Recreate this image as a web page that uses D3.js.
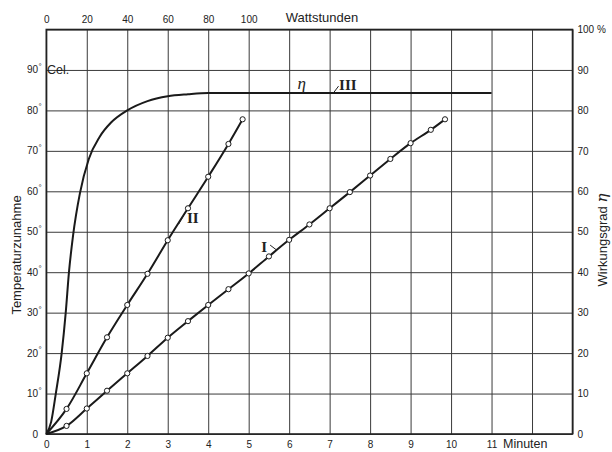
<!DOCTYPE html>
<html><head><meta charset="utf-8">
<script src="https://cdn.jsdelivr.net/npm/d3@7/dist/d3.min.js"></script>
<style>
html,body{margin:0;padding:0;background:#fff;}
svg{display:block;}
text{font-family:"Liberation Sans","Noto Sans",sans-serif;fill:#222;}
</style></head>
<body>
<svg id="chart" width="612" height="452"></svg>
<script>
// ---------- data ----------
const minuteTicks = [0,1,2,3,4,5,6,7,8,9,10,11];
const wattTicks = [0,20,40,60,80,100];
const tempTicks = [0,10,20,30,40,50,60,70,80,90];
const pctTicks = [0,10,20,30,40,50,60,70,80,90,100];

// Curve I  (temperature rise, °C vs minutes)
const curveI_t = [0,0.5,1,1.5,2,2.5,3,3.5,4,4.5,5,5.5,6,6.5,7,7.5,8,8.5,9,9.5,9.85];
const curveI_T = [0,2,6.3,10.7,15,19.3,23.8,27.9,31.9,35.8,39.7,43.9,48,51.8,55.8,59.8,63.9,68,71.9,75.2,77.8];
// Curve II
const curveII_t = [0,0.5,1,1.5,2,2.5,3,3.5,4,4.5,4.85];
const curveII_T = [0,6.2,15,23.9,31.9,39.6,47.9,55.8,63.6,71.7,77.8];
// Curve III  (efficiency eta, %)
const curveIII_t = [0,0.12,0.235,0.38,0.48,0.56,0.66,0.83,1.05,1.32,1.6,2.0,2.5,3.0,3.5,4.0,11.0];
const curveIII_E = [0,3,10,20,30,40,49,59.5,68,73.5,77,80,82.3,83.5,84,84.3,84.3];

// ---------- layout ----------
const svg = d3.select("#chart");
const x = d3.scaleLinear().domain([0,13]).range([46.3,572.5]);
const y = d3.scaleLinear().domain([0,100]).range([434,29.5]);
const xW = d3.scaleLinear().domain([0,260]).range([46.3,572.5]);

const gridColor = "#3a3a3a";
// vertical grid
svg.append("g").attr("transform","translate(0,434)")
  .call(d3.axisBottom(x).tickValues(d3.range(0,14)).tickSize(-404.5).tickFormat(""))
  .call(g=>{g.select(".domain").remove();
    g.selectAll("line").attr("stroke",gridColor).attr("stroke-width",1);});
// horizontal grid
svg.append("g").attr("transform","translate(46.3,0)")
  .call(d3.axisLeft(y).tickValues(pctTicks).tickSize(-526.2).tickFormat(""))
  .call(g=>{g.select(".domain").remove();
    g.selectAll("line").attr("stroke",gridColor).attr("stroke-width",1);});
// frame
svg.append("rect").attr("x",x(0)).attr("y",y(100)).attr("width",x(13)-x(0)).attr("height",y(0)-y(100))
  .attr("fill","none").attr("stroke","#222").attr("stroke-width",1.6);

// bottom axis labels
svg.append("g").attr("transform","translate(0,434)")
  .call(d3.axisBottom(x).tickValues(minuteTicks).tickSize(0).tickPadding(7).tickFormat(d3.format("d")))
  .call(g=>{g.select(".domain").remove();
    g.selectAll("text").attr("font-size",10).style("font-family","Liberation Sans");});
svg.append("text").attr("x",503).attr("y",448).attr("font-size",12.5).text("Minuten");

// top axis labels
svg.append("g").attr("transform","translate(0,29.5)")
  .call(d3.axisTop(xW).tickValues(wattTicks).tickSize(0).tickPadding(7).tickFormat(d3.format("d")))
  .call(g=>{g.select(".domain").remove();
    g.selectAll("text").attr("font-size",10).style("font-family","Liberation Sans");});
svg.append("text").attr("x",322).attr("y",22).attr("text-anchor","middle").attr("font-size",13).text("Wattstunden");

// right axis labels
svg.append("g").attr("transform","translate(572.5,0)")
  .call(d3.axisRight(y).tickValues(pctTicks).tickSize(0).tickPadding(5)
    .tickFormat(d=> d===100 ? "100 %" : d))
  .call(g=>{g.select(".domain").remove();
    g.selectAll("text").attr("font-size",10).style("font-family","Liberation Sans");});

// left axis labels
const left = svg.append("g");
left.selectAll("text.tl").data(tempTicks).join("text")
  .attr("class","tl")
  .attr("x",38).attr("y",d=>y(d)+3.5).attr("text-anchor","end").attr("font-size",10)
  .text(d=>d);
left.selectAll("text.deg").data(tempTicks.filter(d=>d>0)).join("text")
  .attr("class","deg").attr("x",38.5).attr("y",d=>y(d)-1).attr("font-size",8).text("°");
svg.append("text").attr("x",47).attr("y",y(90)+4).attr("font-size",12.5).text("Cel.");

// axis titles
svg.append("text").attr("transform","translate(21,255) rotate(-90)").attr("text-anchor","middle")
  .attr("font-size",13).text("Temperaturzunahme");
svg.append("text").attr("transform","translate(607,240) rotate(-90)").attr("text-anchor","middle")
  .attr("font-size",13)
  .call(t=>{t.append("tspan").text("Wirkungsgrad ");
    t.append("tspan").attr("font-family","DejaVu Serif").attr("font-style","italic").attr("font-size",15).text("η");});

// curves
const line = d3.line().x(d=>x(d[0])).y(d=>y(d[1])).curve(d3.curveMonotoneX);
const dI = curveI_t.map((t,i)=>[t,curveI_T[i]]);
const dII = curveII_t.map((t,i)=>[t,curveII_T[i]]);
const dIII = curveIII_t.map((t,i)=>[t,curveIII_E[i]]);
[dI,dII,dIII].forEach(d=>{
  svg.append("path").datum(d).attr("d",line).attr("fill","none").attr("stroke","#1a1a1a").attr("stroke-width",2);
});
[dI,dII].forEach(d=>{
  svg.append("g").selectAll("circle").data(d.slice(1)).join("circle")
    .attr("cx",p=>x(p[0])).attr("cy",p=>y(p[1])).attr("r",2.6)
    .attr("fill","#fff").attr("stroke","#1a1a1a").attr("stroke-width",1);
});

// curve labels
const serif = "Liberation Serif, DejaVu Serif, serif";
const labels = [
  {txt:"I", t:5.38, v:46.2, lead:[[5.53,46.7],[5.70,45.4]]},
  {txt:"II", t:3.62, v:53.4, lead:[[3.27,51.9],[3.39,54.0]]},
  {txt:"III", t:7.45, v:86.3, lead:[[7.10,84.4],[7.22,86.0]]}
];
labels.forEach(l=>{
  svg.append("text").attr("x",x(l.t)).attr("y",y(l.v)+5).attr("text-anchor","middle")
    .attr("font-size",15).attr("font-weight","bold").style("font-family",serif).text(l.txt);
  svg.append("path").attr("d",d3.line().x(p=>x(p[0])).y(p=>y(p[1])).curve(d3.curveNatural)(l.lead))
    .attr("fill","none").attr("stroke","#222").attr("stroke-width",1);
});
svg.append("text").attr("x",x(6.31)).attr("y",y(86.3)+4).attr("text-anchor","middle")
  .attr("font-size",17).attr("font-style","italic").style("font-family",serif).text("η");
</script>
</body></html>
